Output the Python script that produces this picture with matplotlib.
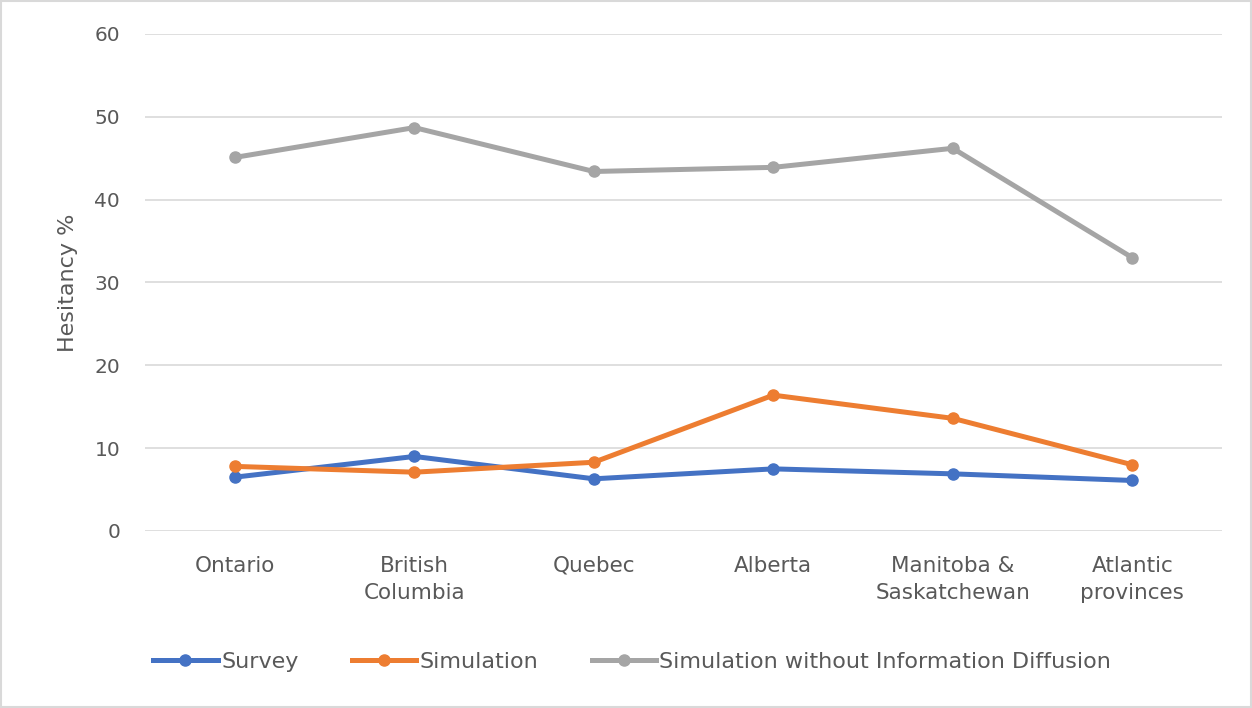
import matplotlib.pyplot as plt
from matplotlib.patches import Rectangle

regions = ["Ontario", "British\nColumbia", "Quebec", "Alberta",
           "Manitoba &\nSaskatchewan", "Atlantic\nprovinces"]
survey = [6.5, 9.0, 6.3, 7.5, 6.9, 6.1]
simulation = [7.8, 7.1, 8.3, 16.4, 13.6, 8.0]
no_diffusion = [45.1, 48.7, 43.4, 43.9, 46.2, 33.0]

plt.rcParams["font.family"] = ["DejaVu Sans"]

fig = plt.figure(figsize=(12.52, 7.08), dpi=100)
ax = fig.add_axes([0.116, 0.25, 0.86, 0.702])

x = range(len(regions))
ax.plot(x, survey, "o-", color="#4472C4", lw=3.6, ms=8, label="Survey", zorder=3)
ax.plot(x, simulation, "o-", color="#ED7D31", lw=3.6, ms=8, label="Simulation", zorder=3)
ax.plot(x, no_diffusion, "o-", color="#A5A5A5", lw=3.6, ms=8,
        label="Simulation without Information Diffusion", zorder=3)

ax.set_xlim(-0.5, len(regions) - 0.5)
ax.set_ylim(0, 60)
ax.set_yticks(range(0, 61, 10))
ax.set_xticks(list(x))
ax.set_xticklabels(regions, linespacing=1.45)
ax.grid(axis="y", color="#D9D9D9", lw=1.2)
ax.set_axisbelow(True)
for s in ax.spines.values():
    s.set_visible(False)
ax.tick_params(axis="both", length=0, colors="#595959")
ax.tick_params(axis="x", pad=18, labelsize=15.5)
ax.tick_params(axis="y", pad=18, labelsize=14.5)
ax.set_ylabel("Hesitancy %", fontsize=16, color="#595959", labelpad=12)

fig.legend(loc="center", bbox_to_anchor=(0.505, 1 - 662 / 708), ncol=3,
           frameon=False, fontsize=16, labelcolor="#595959",
           handlelength=2.9, handletextpad=0.15, columnspacing=2.4)

fig.patches.append(Rectangle((0.001, 0.001), 0.998, 0.998, transform=fig.transFigure,
                             fill=False, edgecolor="#D9D9D9", lw=1.5))

fig.savefig("out.png", dpi=100, facecolor="white")
